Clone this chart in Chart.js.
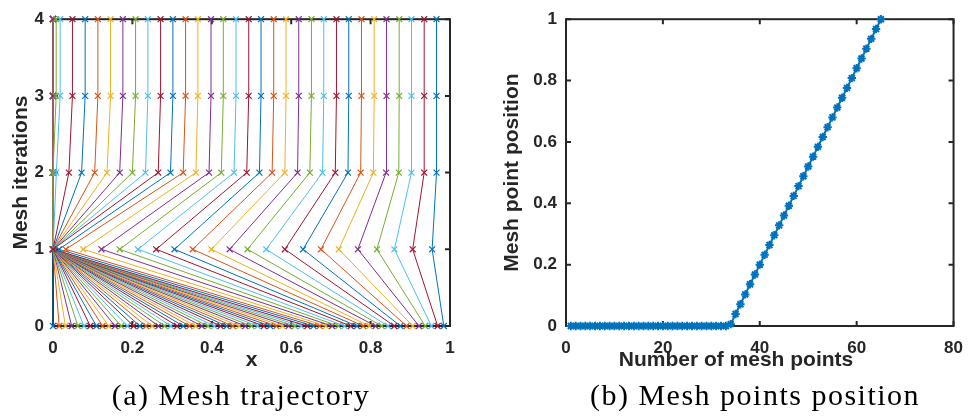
<!DOCTYPE html>
<html>
<head>
<meta charset="utf-8">
<script src="https://cdn.jsdelivr.net/npm/chart.js@4.4.0/dist/chart.umd.min.js"></script>
<style>
  body { margin: 0; background: #fff; width: 975px; height: 416px; position: relative; overflow: hidden; }
  #chartA { position: absolute; left: 0; top: 0; }
  #chartB { position: absolute; left: 490px; top: 0; }
  .cap { position: absolute; top: 380px; font-family: "Liberation Serif", serif; font-size: 30px; line-height: 30px;
         letter-spacing: 1.5px; color: #000; white-space: nowrap; transform: translateX(-50%); }
  .xlab { position: absolute; top: 348px; font-family: "Liberation Sans", Arial, sans-serif; font-weight: bold;
          font-size: 21px; line-height: 21px; color: #262626; white-space: nowrap; transform: translateX(-50%); }
</style>
</head>
<body>
<canvas id="chartA" width="470" height="380"></canvas>
<canvas id="chartB" width="485" height="380"></canvas>
<div class="xlab" style="left:736px">Number of mesh points</div>
<div class="cap" style="left:241px">(a) Mesh trajectory</div>
<div class="cap" style="left:755px">(b) Mesh points position</div>
<script>
// tick labels
const xTicksA = [0, 0.2, 0.4, 0.6, 0.8, 1];
const yTicksA = [0, 1, 2, 3, 4];
const xTicksB = [0, 20, 40, 60, 80];
const yTicksB = [0, 0.2, 0.4, 0.6, 0.8, 1];

// (a) x position of each moving mesh point at each iteration
const iterations = [0, 1, 2, 3, 4];
const pos0 = [0, 0.0156, 0.0313, 0.0469, 0.0625, 0.0781, 0.0938, 0.1094, 0.125, 0.1406, 0.1563, 0.1719, 0.1875,
  0.2031, 0.2188, 0.2344, 0.25, 0.2656, 0.2813, 0.2969, 0.3125, 0.3281, 0.3438, 0.3594, 0.375, 0.3906, 0.4063,
  0.4219, 0.4375, 0.4531, 0.4688, 0.4844, 0.5, 0.5156, 0.5313, 0.5469, 0.5625, 0.5781, 0.5938, 0.6094, 0.625,
  0.6406, 0.6563, 0.6719, 0.6875, 0.7031, 0.7188, 0.7344, 0.75, 0.7656, 0.7813, 0.7969, 0.8125, 0.8281, 0.8438,
  0.8594, 0.875, 0.8906, 0.9063, 0.9219, 0.9375, 0.9531, 0.9688, 0.9844];
const pos1 = [0, 0, 0, 0, 0, 0, 0, 0, 0, 0, 0, 0, 0, 0, 0, 0, 0, 0, 0, 0, 0, 0, 0, 0, 0, 0, 0, 0, 0, 0,
  0, 0, 0, 0, 0, 0, 0, 0, 0, 0, 0, 0,
  0.015, 0.032, 0.076, 0.122, 0.168, 0.214, 0.26, 0.306, 0.352, 0.399, 0.445, 0.49, 0.537, 0.584, 0.63,
  0.675, 0.72, 0.768, 0.816, 0.86, 0.906, 0.955];
const pos2 = [0, 0, 0, 0, 0, 0, 0, 0, 0, 0, 0, 0, 0, 0, 0, 0, 0, 0, 0, 0, 0, 0, 0, 0, 0, 0, 0, 0, 0, 0,
  0, 0, 0, 0.0085,
  0.040, 0.072, 0.105, 0.136, 0.168, 0.2, 0.233, 0.265, 0.296, 0.328, 0.36, 0.393, 0.424, 0.456, 0.488,
  0.52, 0.552, 0.584, 0.616, 0.647, 0.679, 0.711, 0.743, 0.775, 0.807, 0.839, 0.871, 0.903, 0.935, 0.966];
const pos3 = [0, 0, 0, 0, 0, 0, 0, 0, 0, 0, 0, 0, 0, 0, 0, 0, 0, 0, 0, 0, 0, 0, 0, 0, 0, 0, 0, 0, 0, 0,
  0, 0, 0.008, 0.018,
  0.049, 0.081, 0.113, 0.145, 0.176, 0.208, 0.239, 0.271, 0.302, 0.334, 0.365, 0.398, 0.429, 0.461, 0.493,
  0.524, 0.556, 0.587, 0.619, 0.651, 0.682, 0.714, 0.745, 0.777, 0.809, 0.84, 0.872, 0.903, 0.935, 0.966];
const pos4 = [0, 0, 0, 0, 0, 0, 0, 0, 0, 0, 0, 0, 0, 0, 0, 0, 0, 0, 0, 0, 0, 0, 0, 0, 0, 0, 0, 0, 0, 0,
  0, 0, 0.008, 0.018,
  0.049, 0.081, 0.113, 0.145, 0.176, 0.208, 0.239, 0.271, 0.302, 0.334, 0.365, 0.398, 0.429, 0.461, 0.493,
  0.524, 0.556, 0.587, 0.619, 0.651, 0.682, 0.714, 0.745, 0.777, 0.809, 0.84, 0.872, 0.903, 0.935, 0.966];

// (b) final mesh point positions
const meshIndex = [1, 2, 3, 4, 5, 6, 7, 8, 9, 10, 11, 12, 13, 14, 15, 16, 17, 18, 19, 20, 21, 22, 23, 24, 25,
  26, 27, 28, 29, 30, 31, 32, 33, 34, 35, 36, 37, 38, 39, 40, 41, 42, 43, 44, 45, 46, 47, 48, 49, 50, 51, 52,
  53, 54, 55, 56, 57, 58, 59, 60, 61, 62, 63, 64, 65];
const meshPos = [0, 0, 0, 0, 0, 0, 0, 0, 0, 0, 0, 0, 0, 0, 0, 0, 0, 0, 0, 0, 0, 0, 0, 0, 0, 0, 0, 0, 0, 0,
  0, 0, 0, 0.006,
  0.039, 0.071, 0.103, 0.136, 0.168, 0.2, 0.232, 0.264, 0.296, 0.328, 0.36, 0.392, 0.424, 0.456, 0.488,
  0.52, 0.552, 0.584, 0.616, 0.648, 0.68, 0.712, 0.744, 0.776, 0.808, 0.84, 0.872, 0.904, 0.936, 0.968, 1];

const palette = ['#0072BD', '#D95319', '#EDB120', '#7E2F8E', '#77AC30', '#4DBEEE', '#A2142F'];
const axisColor = '#262626';

Chart.defaults.font.family = '"Liberation Sans", Arial, sans-serif';
Chart.defaults.color = axisColor;

// matlab style box with inward ticks on all four sides, drawn under the data
const boxTicks = {
  id: 'boxTicks',
  beforeDatasetsDraw(chart) {
    const { ctx, chartArea: a, scales: { x, y } } = chart;
    ctx.save();
    ctx.strokeStyle = axisColor;
    ctx.lineWidth = 2;
    ctx.beginPath();
    x.ticks.forEach(t => {
      const px = x.getPixelForValue(t.value);
      ctx.moveTo(px, a.bottom); ctx.lineTo(px, a.bottom - 5);
      ctx.moveTo(px, a.top); ctx.lineTo(px, a.top + 5);
    });
    y.ticks.forEach(t => {
      const py = y.getPixelForValue(t.value);
      ctx.moveTo(a.left, py); ctx.lineTo(a.left + 5, py);
      ctx.moveTo(a.right, py); ctx.lineTo(a.right - 5, py);
    });
    ctx.stroke();
    ctx.strokeRect(a.left, a.top, a.right - a.left, a.bottom - a.top);
    ctx.restore();
  }
};

function axis(min, max, ticks, fit, pad, title, titlePad) {
  return {
    type: 'linear', min, max,
    afterBuildTicks: s => { s.ticks = ticks.map(v => ({ value: v })); },
    afterFit: fit,
    grid: { display: false, drawTicks: false, tickLength: 0 },
    border: { display: false },
    ticks: { font: { size: 17, weight: 'bold' }, padding: pad, maxRotation: 0, autoSkip: false,
             callback: v => String(v) },
    title: { display: !!title, text: title, padding: titlePad, font: { size: 21, weight: 'bold' } }
  };
}

const trajSets = pos0.map((_, i) => ({
  data: [pos0, pos1, pos2, pos3, pos4].map((lv, k) => ({ x: lv[i], y: iterations[k] })),
  showLine: true,
  borderColor: palette[i % 7],
  backgroundColor: palette[i % 7],
  borderWidth: 1,
  pointStyle: 'crossRot',
  pointRadius: 4.2,
  pointBorderWidth: 1.2,
  order: -i,
  clip: false
}));

new Chart(document.getElementById('chartA'), {
  type: 'scatter',
  data: { datasets: trajSets },
  options: {
    responsive: false, animation: false, events: [],
    layout: { padding: { top: 13, right: 20, bottom: 0, left: 0 } },
    plugins: { legend: { display: false }, tooltip: { enabled: false } },
    scales: {
      x: axis(0, 1, xTicksA, s => { s.height = 54; }, 12, 'x', { top: 0, bottom: 7 }),
      y: axis(0, 4, yTicksA, s => { s.width = 53; }, 9, 'Mesh iterations', { top: 9, bottom: 0 })
    }
  },
  plugins: [boxTicks]
});

new Chart(document.getElementById('chartB'), {
  type: 'scatter',
  data: {
    datasets: [{
      data: meshIndex.map((n, i) => ({ x: n, y: meshPos[i] })),
      showLine: true,
      borderColor: palette[0],
      backgroundColor: palette[0],
      borderWidth: 2,
      pointStyle: 'star',
      pointRadius: 4.2,
      pointBorderWidth: 2,
      clip: false
    }]
  },
  options: {
    responsive: false, animation: false, events: [],
    layout: { padding: { top: 13, right: 13, bottom: 0, left: 0 } },
    plugins: { legend: { display: false }, tooltip: { enabled: false } },
    scales: {
      x: axis(0, 80, xTicksB, s => { s.height = 54; }, 12, '', { top: 0, bottom: 0 }),
      y: axis(0, 1, yTicksB, s => { s.width = 76; }, 9, 'Mesh point position', { top: 10, bottom: 0 })
    }
  },
  plugins: [boxTicks]
});
</script>
</body>
</html>
